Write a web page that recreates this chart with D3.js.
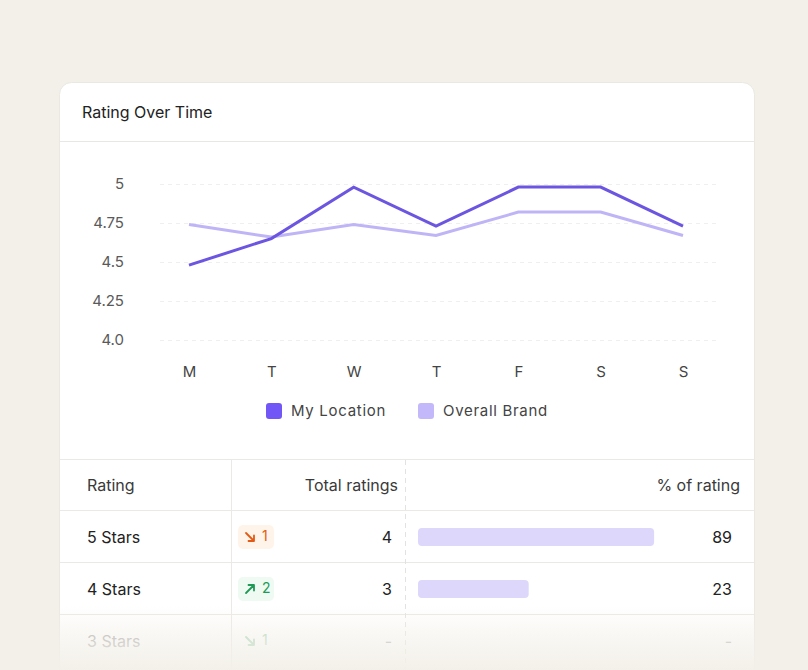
<!DOCTYPE html>
<html><head><meta charset="utf-8">
<script src="https://cdn.jsdelivr.net/npm/d3@7"></script>
<style>
html,body{margin:0;padding:0;background:#f3f0e9;}
svg{display:block;font-family:Inter,"Noto Sans",sans-serif;}
</style></head>
<body><svg id="c" width="808" height="670"></svg>
<script>
const days = ["M","T","W","T","F","S","S"];
const myLocation = [4.48, 4.65, 4.98, 4.73, 4.98, 4.98, 4.73];
const overallBrand = [4.74, 4.66, 4.74, 4.67, 4.82, 4.82, 4.67];
const yTicks = [4.0, 4.25, 4.5, 4.75, 5];
const yTickLabels = ["4.0","4.25","4.5","4.75","5"];
const seriesNames = ["My Location","Overall Brand"];
const ratingLabels = ["5 Stars","4 Stars","3 Stars"];
const changeDir = ["down","up","down"];
const changeVal = [1, 2, 1];
const totals = ["4","3","-"];
const pctValues = [89, 23, null];
const headers = ["Rating","Total ratings","% of rating"];

const svg = d3.select("#c");
const BG = "#f3f0e9";
const defs = svg.append("defs");
const g = defs.append("linearGradient").attr("id","fade").attr("x1",0).attr("y1",0).attr("x2",0).attr("y2",1);
g.append("stop").attr("offset","0").attr("stop-color",BG).attr("stop-opacity",0);
g.append("stop").attr("offset","0.45").attr("stop-color",BG).attr("stop-opacity",0.5);
g.append("stop").attr("offset","1").attr("stop-color",BG).attr("stop-opacity",0.97);

// card
svg.append("rect").attr("x",59.5).attr("y",82.5).attr("width",695).attr("height",640).attr("rx",12)
  .attr("fill","#fff").attr("stroke","#ebe8e1");
svg.append("text").attr("x",82).attr("y",112).attr("dy","0.35em").attr("font-size",16).attr("fill","#222").text("Rating Over Time");
svg.append("line").attr("x1",60).attr("x2",754).attr("y1",141.5).attr("y2",141.5).attr("stroke","#e9e7e3");

// chart
const x = d3.scalePoint().domain(d3.range(days.length)).range([189,683]);
const y = d3.scaleLinear().domain([4,5]).range([340,184]);

const grid = svg.append("g");
grid.selectAll("line").data(yTicks).join("line")
  .attr("x1",160).attr("x2",716).attr("y1",d=>y(d)+0.5).attr("y2",d=>y(d)+0.5)
  .attr("stroke","#efefef").attr("stroke-dasharray","4,4");
const yAxis = d3.axisLeft(y).tickValues(yTicks).tickFormat((d,i)=>yTickLabels[i]).tickSize(0).tickPadding(0);
const ya = svg.append("g").attr("transform","translate(124,0)").call(yAxis);
ya.select(".domain").remove();
ya.selectAll("text").attr("font-size",15).attr("fill","#5a5a5a").attr("font-family","Inter");

const xAxis = d3.axisBottom(x).tickFormat(i=>days[i]).tickSize(0).tickPadding(0);
const xa = svg.append("g").attr("transform","translate(0,366)").call(xAxis);
xa.select(".domain").remove();
xa.selectAll("text").attr("font-size",15).attr("fill","#444").attr("font-family","Inter");

const line = d3.line().x((d,i)=>x(i)).y(d=>y(d));
svg.append("path").datum(overallBrand).attr("d",line).attr("fill","none").attr("stroke","#bfb4f6").attr("stroke-width",3);
svg.append("path").datum(myLocation).attr("d",line).attr("fill","none").attr("stroke","#6c55e0").attr("stroke-width",3);

// legend
const legColors = ["#7357f6","#c2b8fa"];
const legX = [266, 418];
seriesNames.forEach((n,i)=>{
  svg.append("rect").attr("x",legX[i]).attr("y",403).attr("width",16).attr("height",16).attr("rx",3).attr("fill",legColors[i]);
  svg.append("text").attr("x",legX[i]+25).attr("y",411).attr("dy","0.35em").attr("font-size",15)
    .attr("letter-spacing",0.7).attr("fill","#444").text(n);
});

// table
const lineC = "#ebe9e5";
svg.append("line").attr("x1",60).attr("x2",754).attr("y1",459.5).attr("y2",459.5).attr("stroke",lineC);
[510.5,562.5,614.5].forEach(yy=>svg.append("line").attr("x1",60).attr("x2",754).attr("y1",yy).attr("y2",yy).attr("stroke",lineC));
svg.append("line").attr("x1",231.5).attr("x2",231.5).attr("y1",460).attr("y2",670).attr("stroke",lineC);
svg.append("line").attr("x1",405.5).attr("x2",405.5).attr("y1",460).attr("y2",670).attr("stroke","#e4e2de").attr("stroke-dasharray","5,4");

svg.append("text").attr("x",87).attr("y",485).attr("dy","0.35em").attr("font-size",16).attr("fill","#3a3a3a").text(headers[0]);
svg.append("text").attr("x",398).attr("y",485).attr("dy","0.35em").attr("font-size",16).attr("fill","#3a3a3a").attr("text-anchor","end").text(headers[1]);
svg.append("text").attr("x",740).attr("y",485).attr("dy","0.35em").attr("font-size",16).attr("fill","#3a3a3a").attr("text-anchor","end").text(headers[2]);

const rowY = d3.scalePoint().domain(d3.range(ratingLabels.length)).range([537,641]);
const barW = d3.scaleLinear().domain([0,100]).range([67,257]);

ratingLabels.forEach((lab,i)=>{
  const cy = rowY(i);
  const faded = i===2;
  const row = svg.append("g").attr("opacity", faded?0.8:1);
  row.append("text").attr("x",87).attr("y",cy).attr("dy","0.35em").attr("font-size",16).attr("fill",faded?"#8e8e8e":"#222").text(lab);
  const up = changeDir[i]==="up";
  const col = faded ? "#8fcaa3" : (up ? "#1f9a55" : "#e35a14");
  const bg = faded ? "none" : (up ? "#eefaf2" : "#fff4ea");
  row.append("rect").attr("x",238).attr("y",cy-12).attr("width",36).attr("height",24).attr("rx",5).attr("fill",bg);
  const ax = 250, ay = cy;
  const arrow = up
    ? `M${ax-4},${ay+4}L${ax+4},${ay-4}M${ax-1.5},${ay-4}L${ax+4},${ay-4}L${ax+4},${ay+1.5}`
    : `M${ax-4},${ay-4}L${ax+4},${ay+4}M${ax-1.5},${ay+4}L${ax+4},${ay+4}L${ax+4},${ay-1.5}`;
  row.append("path").attr("d",arrow).attr("fill","none").attr("stroke",col).attr("stroke-width",1.8).attr("stroke-linecap","round").attr("stroke-linejoin","round");
  row.append("text").attr("x",262).attr("y",cy-0.5).attr("dy","0.35em").attr("font-size",14).attr("fill",col).text(changeVal[i]);
  row.append("text").attr("x",392).attr("y",cy).attr("dy","0.35em").attr("font-size",16).attr("fill",faded?"#999":"#222").attr("text-anchor","end").text(totals[i]);
  if (pctValues[i]!=null){
    row.append("rect").attr("x",418).attr("y",cy-9).attr("width",barW(pctValues[i])).attr("height",18).attr("rx",4).attr("fill","#dcd7fb");
  }
  row.append("text").attr("x",732).attr("y",cy).attr("dy","0.35em").attr("font-size",16).attr("fill",faded?"#999":"#222").attr("text-anchor","end")
    .text(pctValues[i]==null?"-":pctValues[i]);
});

// bottom fade
svg.append("rect").attr("x",0).attr("y",606).attr("width",808).attr("height",64).attr("fill","url(#fade)");
</script></body></html>
